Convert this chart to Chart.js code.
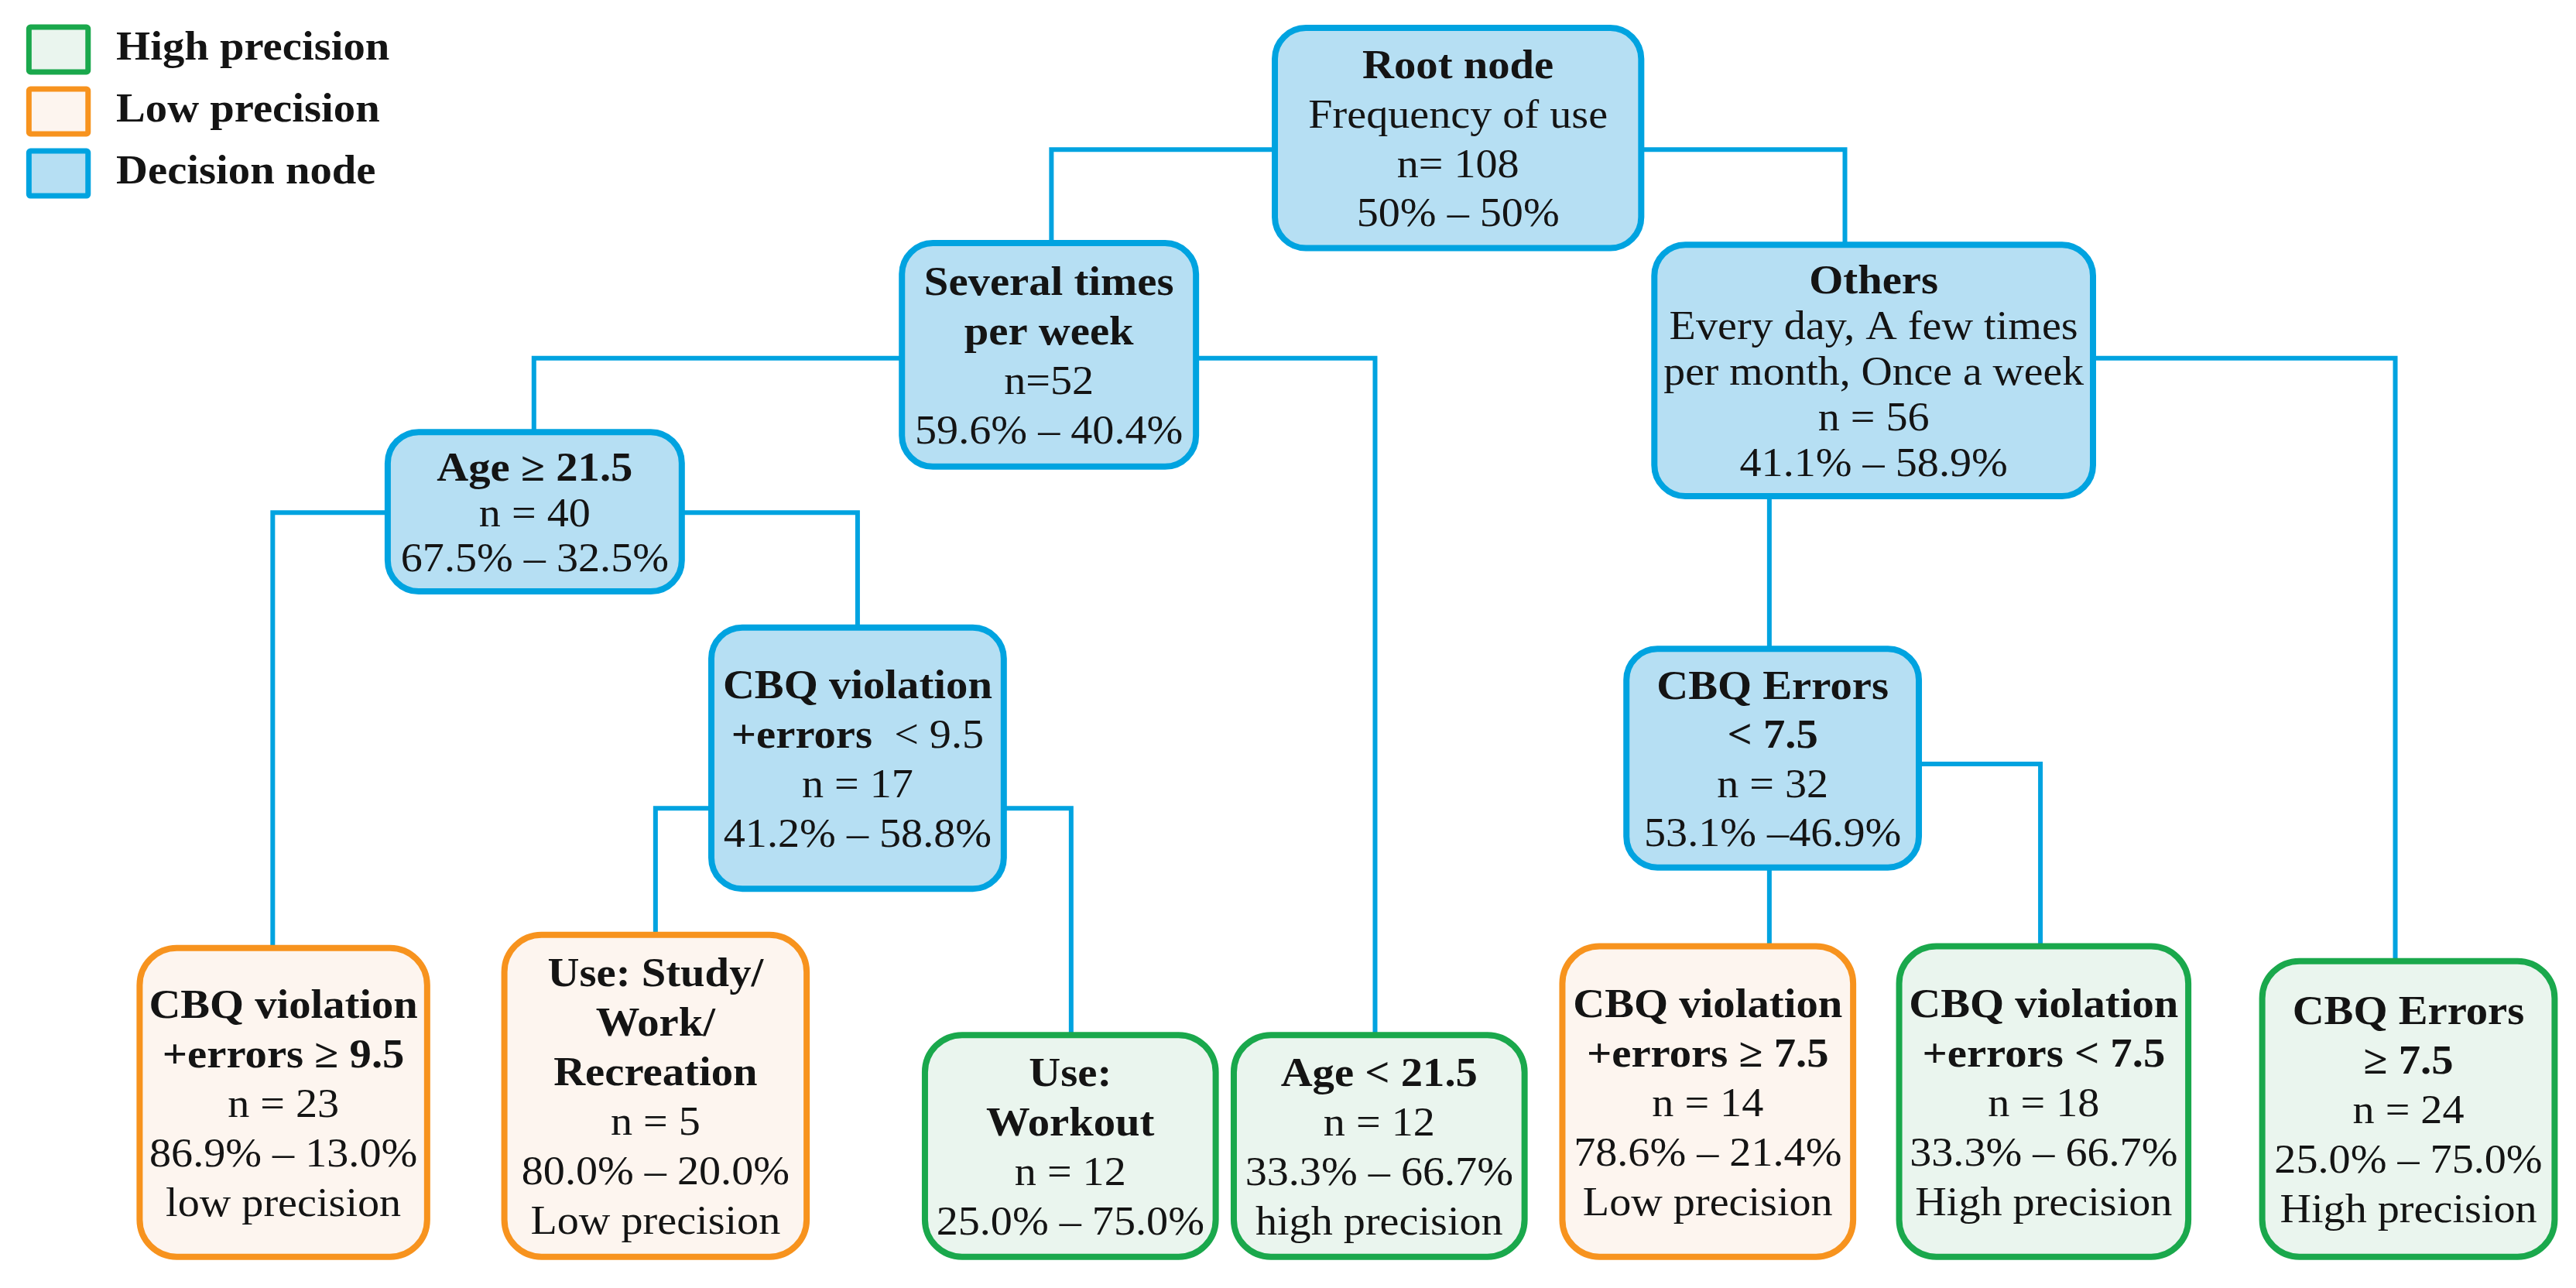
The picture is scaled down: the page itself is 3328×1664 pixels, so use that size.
<!DOCTYPE html>
<html>
<head>
<meta charset="utf-8">
<script src="https://cdn.jsdelivr.net/npm/chart.js@4.4.1/dist/chart.umd.min.js"></script>
<style>
  html, body { margin: 0; padding: 0; background: #fff; }
  #tree { display: block; }
</style>
</head>
<body>
<canvas id="tree" width="3328" height="1664"></canvas>
<script>
// tree nodes: 0 root, 1 several, 2 others, 3 age, 4 cbq viol, 5 cbq err, 6..12 leaves
const nodeHeads = [
    ['Root node'], ['Several times', 'per week'], ['Others'], ['Age ≥ 21.5'],
    ['CBQ violation', '+errors'], ['CBQ Errors', '< 7.5'],
    ['CBQ violation', '+errors ≥ 9.5'], ['Use: Study/', 'Work/', 'Recreation'], ['Use:', 'Workout'],
    ['Age < 21.5'], ['CBQ violation', '+errors ≥ 7.5'], ['CBQ violation', '+errors < 7.5'], ['CBQ Errors', '≥ 7.5']
];
const nodeHeadTail = ['', '', '', '', '  < 9.5', '', '', '', '', '', '', '', ''];
const nodeNotes = [
    ['Frequency of use'], [], ['Every day, A few times', 'per month, Once a week'], [], [], [],
    [], [], [], [], [], [], []
];
const nodeN = [108, 52, 56, 40, 17, 32, 23, 5, 12, 12, 14, 18, 24];
const nodeNSep = ['= ', '=', ' = ', ' = ', ' = ', ' = ', ' = ', ' = ', ' = ', ' = ', ' = ', ' = ', ' = '];
const pctA = [50, 59.6, 41.1, 67.5, 41.2, 53.1, 86.9, 80.0, 25.0, 33.3, 78.6, 33.3, 25.0];
const pctB = [50, 40.4, 58.9, 32.5, 58.8, 46.9, 13.0, 20.0, 75.0, 66.7, 21.4, 66.7, 75.0];
const pctDigits = [0, 1, 1, 1, 1, 1, 1, 1, 1, 1, 1, 1, 1];
const pctSep = [' – ', ' – ', ' – ', ' – ', ' – ', ' –', ' – ', ' – ', ' – ', ' – ', ' – ', ' – ', ' – '];
const nodeVerdict = ['', '', '', '', '', '', 'low precision', 'Low precision', '', 'high precision',
    'Low precision', 'High precision', 'High precision'];
const nodeKind = ['decision', 'decision', 'decision', 'decision', 'decision', 'decision',
    'low', 'low', 'high', 'high', 'low', 'high', 'high'];

const legendLabels = ['High precision', 'Low precision', 'Decision node'];
const legendKinds = ['high', 'low', 'decision'];

// layout, in plot units (1568 x 784 grid)
const nodeBoxes = [
    [776, 17, 999, 151], [549, 148, 728, 284], [1007, 149, 1274, 302],
    [236, 263, 415, 360], [433, 382, 611, 541], [990, 395, 1168, 528],
    [85, 577, 260, 765], [307, 569, 491, 765], [563, 630, 740, 765],
    [751, 630, 928, 765], [951, 576, 1128, 765], [1156, 576, 1332, 765], [1377, 585, 1555, 765]
];
// [parent, child, side, attach, drop]
const edgeLinks = [
    [0, 1, 'L', 91, 640], [0, 2, 'R', 91, 1123],
    [1, 3, 'L', 218, 325], [1, 9, 'R', 218, 837],
    [2, 12, 'R', 218, 1458], [2, 5, 'B', 1077, 1077],
    [3, 6, 'L', 312, 166], [3, 4, 'R', 312, 522],
    [4, 7, 'L', 492, 399], [4, 8, 'R', 492, 652],
    [5, 10, 'B', 1077, 1077], [5, 11, 'R', 465, 1242]
];

const kindStyle = {
    decision: { fill: '#b6dff3', stroke: '#00a3e0', radius: 40 },
    high: { fill: '#eaf5ee', stroke: '#1aa84c', radius: 48 },
    low: { fill: '#fdf5ef', stroke: '#f7931e', radius: 48 }
};
const LINE_BLUE = '#00a3e0';
const FONT = '"Liberation Serif", "Times New Roman", serif';
const FONT_PX = 52;
const LINE_PX = 64;
const TEXT_DROP = 5;
const REG_STRETCH = 1.08;
const BOLD_STRETCH = 1.09;

function edgePoints(link) {
    const [p, c, side, at, drop] = link;
    const pb = nodeBoxes[p], cb = nodeBoxes[c];
    if (side === 'B') {
        return [{ x: at, y: pb[3] }, { x: at, y: cb[1] }];
    }
    const sx = side === 'L' ? pb[0] : pb[2];
    return [{ x: sx, y: at }, { x: drop, y: at }, { x: drop, y: cb[1] }];
}

function nodeLines(i) {
    const lines = nodeHeads[i].map(t => [[t, true]]);
    if (nodeHeadTail[i]) lines[lines.length - 1].push([nodeHeadTail[i], false]);
    nodeNotes[i].forEach(t => lines.push([[t, false]]));
    lines.push([[`n${nodeNSep[i]}${nodeN[i]}`, false]]);
    const d = pctDigits[i];
    lines.push([[`${pctA[i].toFixed(d)}%${pctSep[i]}${pctB[i].toFixed(d)}%`, false]]);
    if (nodeVerdict[i]) lines.push([[nodeVerdict[i], false]]);
    return lines;
}

function setFont(ctx, bold) {
    ctx.font = `${bold ? 'bold ' : ''}${FONT_PX}px ${FONT}`;
}

function drawRich(ctx, segs, cx, cy, maxW, alignLeft) {
    const parts = segs.map(([t, bold]) => {
        setFont(ctx, bold);
        const k = bold ? BOLD_STRETCH : REG_STRETCH;
        return { t, bold, k, w: ctx.measureText(t).width * k };
    });
    const total = parts.reduce((s, p) => s + p.w, 0);
    const squeeze = total > maxW ? maxW / total : 1;
    let xx = alignLeft ? cx : cx - total * squeeze / 2;
    parts.forEach(p => {
        ctx.save();
        setFont(ctx, p.bold);
        ctx.translate(xx, cy);
        ctx.scale(p.k * squeeze, 1);
        ctx.fillText(p.t, 0, 0);
        ctx.restore();
        xx += p.w * squeeze;
    });
}

function drawBox(ctx, left, top, w, h, st, lw, radius) {
    ctx.save();
    ctx.beginPath();
    ctx.roundRect(left, top, w, h, radius);
    ctx.fillStyle = st.fill;
    ctx.fill();
    ctx.lineWidth = lw;
    ctx.strokeStyle = st.stroke;
    ctx.stroke();
    ctx.restore();
}

const treeBoxes = {
    id: 'treeBoxes',
    afterDatasetsDraw(chart) {
        const { ctx, scales: { x, y } } = chart;
        ctx.save();
        ctx.fillStyle = '#141414';
        ctx.textBaseline = 'middle';
        ctx.textAlign = 'left';
        nodeBoxes.forEach((b, i) => {
            const left = x.getPixelForValue(b[0]), right = x.getPixelForValue(b[2]);
            const top = y.getPixelForValue(b[1]), bottom = y.getPixelForValue(b[3]);
            const st = kindStyle[nodeKind[i]];
            drawBox(ctx, left, top, right - left, bottom - top, st, 8, st.radius);
            const lines = nodeLines(i);
            const lh = Math.min(LINE_PX, (bottom - top - 30) / lines.length);
            const cx = (left + right) / 2;
            let cy = (top + bottom) / 2 - lh * (lines.length - 1) / 2 + TEXT_DROP;
            ctx.fillStyle = '#141414';
            lines.forEach(segs => {
                drawRich(ctx, segs, cx, cy, right - left - 24, false);
                cy += lh;
            });
        });

        // legend, top left
        legendLabels.forEach((label, i) => {
            const top = y.getPixelForValue(16.5 + i * 37.7);
            const bot = y.getPixelForValue(43.8 + i * 37.7);
            const left = x.getPixelForValue(17.6), right = x.getPixelForValue(53.6);
            drawBox(ctx, left, top, right - left, bot - top, kindStyle[legendKinds[i]], 7, 2);
            ctx.fillStyle = '#141414';
            drawRich(ctx, [[label, true]], x.getPixelForValue(70.7), (top + bot) / 2, 9999, true);
        });
        ctx.restore();
    }
};

new Chart(document.getElementById('tree'), {
    type: 'scatter',
    data: {
        datasets: edgeLinks.map(link => ({
            data: edgePoints(link),
            showLine: true,
            borderColor: LINE_BLUE,
            borderWidth: 6,
            pointRadius: 0,
            fill: false,
            tension: 0
        }))
    },
    options: {
        responsive: false,
        devicePixelRatio: 1,
        animation: false,
        layout: { padding: 0 },
        scales: {
            x: { type: 'linear', min: 0, max: 1568, display: false },
            y: { type: 'linear', min: 0, max: 784, reverse: true, display: false }
        },
        plugins: {
            legend: { display: false },
            tooltip: { enabled: false }
        }
    },
    plugins: [treeBoxes]
});
</script>
</body>
</html>
